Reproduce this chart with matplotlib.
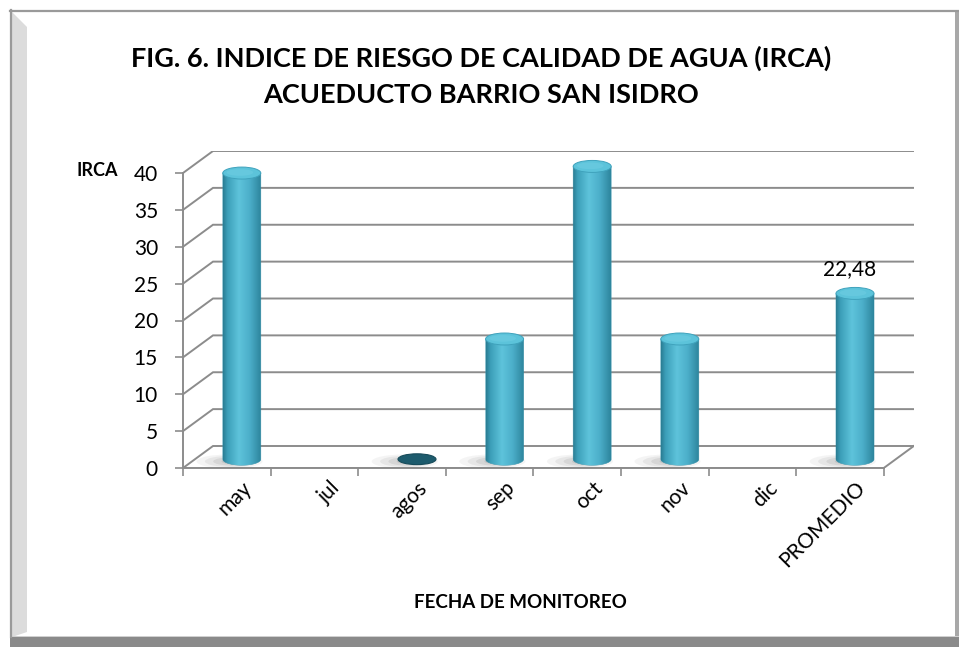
import numpy as np
import matplotlib
matplotlib.use("Agg")
import matplotlib.pyplot as plt
from matplotlib.path import Path
from matplotlib.patches import PathPatch, Ellipse, Rectangle, Polygon
from matplotlib.colors import LinearSegmentedColormap

plt.rcParams['font.family'] = ['Lato', 'DejaVu Sans']

# IRCA por mes de monitoreo (None = sin muestreo)
meses = ['may', 'jul', 'agos', 'sep', 'oct', 'nov', 'dic', 'PROMEDIO']
irca = [38.8, None, 0.0, 16.3, 39.7, 16.3, None, 22.48]
yticks = [0, 5, 10, 15, 20, 25, 30, 35, 40]

W, H = 959, 647
fig = plt.figure(figsize=(W / 100, H / 100), dpi=100)

# marco del grafico (pixeles)
bg = fig.add_axes([0, 0, 1, 1], zorder=-5)
bg.set_xlim(0, W)
bg.set_ylim(H, 0)
bg.axis('off')
bg.add_patch(Rectangle((10, 10), W - 10, H - 10, facecolor='white', edgecolor='none'))
bg.add_patch(Polygon([(12, 12), (27, 27), (27, 632), (12, 637)], closed=True,
                     facecolor='#dcdcdc', edgecolor='none'))
bg.plot([10, W], [10.5, 10.5], color='#9a9a9a', lw=1.6)
bg.plot([11, 11], [10, 637], color='#9a9a9a', lw=1.6)
bg.add_patch(Rectangle((955, 10), 4, 627, facecolor='#a8a8a8', edgecolor='none'))
bg.add_patch(Rectangle((10, 635.5), W - 10, 1.5, facecolor='#d0d0d0', edgecolor='none'))
bg.add_patch(Rectangle((10, 637), W - 10, 10, facecolor='#8a8a8a', edgecolor='none'))

# area del grafico 3D: escala de px por unidad
PX_CAT, PX_VAL = 87.6, 7.375
DX, DY = 30 / PX_CAT, 22 / PX_VAL
x0_px, y0_px = 183, 468
ymax = 40
ax_w = (len(meses) + DX) * PX_CAT
ax_h = (ymax + DY) * PX_VAL
ax = fig.add_axes([x0_px / W, (H - y0_px) / H, ax_w / W, ax_h / H])
ax.set_facecolor('none')

grid_c = '#8c8c8c'
n = len(meses)

# paredes: lineas de division en pared izquierda y fondo
for v in yticks:
    ax.plot([0, DX, n + DX], [v, v + DY, v + DY], color=grid_c, lw=1.4,
            solid_joinstyle='miter', zorder=1)
# piso
ax.plot([0, n, n + DX], [0, 0, DY], color=grid_c, lw=1.4, zorder=1)

cmap = LinearSegmentedColormap.from_list('cil', [
    (0.0, '#2a7c93'), (0.12, '#3c9fb9'), (0.42, '#5ec3db'),
    (0.7, '#4cafca'), (1.0, '#2d859d')])
grad = np.linspace(0, 1, 256).reshape(1, -1)

cw = 38 / PX_CAT          # ancho del cilindro
eh = 12 / PX_VAL          # alto de la elipse
base = DY / 2 - 0.3
t = np.linspace(np.pi, 2 * np.pi, 60)

for i, v in enumerate(irca):
    if v is None:
        continue
    cx = i + 0.5 + DX / 2
    # sombra difusa hacia la izquierda
    for k, a in enumerate([0.06, 0.08, 0.1, 0.12]):
        s = 1 - k * 0.2
        ax.add_patch(Ellipse((cx - 0.14 + k * 0.02, base - 0.3), (cw + 0.32) * s, 1.9 * s,
                             facecolor='#4a4a4a', edgecolor='none', alpha=a, zorder=2))
    if v == 0:
        ax.add_patch(Ellipse((cx, base), cw, eh * 0.9, facecolor='#1d5b6d',
                             edgecolor='#174b5a', lw=0.8, zorder=3))
        continue
    top = base + v
    arc_x = cx + cw / 2 * np.cos(t)
    arc_y = base + eh / 2 * np.sin(t)
    verts = [(cx - cw / 2, top)] + list(zip(arc_x, arc_y)) + [(cx + cw / 2, top), (cx - cw / 2, top)]
    codes = [Path.MOVETO] + [Path.LINETO] * (len(verts) - 2) + [Path.CLOSEPOLY]
    body = PathPatch(Path(verts, codes), facecolor='none', edgecolor='#3792ab', lw=0.4, zorder=3)
    ax.add_patch(body)
    im = ax.imshow(grad, cmap=cmap, aspect='auto', zorder=3,
                   extent=(cx - cw / 2, cx + cw / 2, base - eh, top), interpolation='bilinear')
    im.set_clip_path(body)
    ax.add_patch(Ellipse((cx, top), cw, eh, facecolor='#5cc3da', edgecolor='#3fa2bc',
                         lw=0.7, zorder=4))
    ax.add_patch(Ellipse((cx - cw * 0.05, top + eh * 0.05), cw * 0.7, eh * 0.55,
                         facecolor='#6dcde2', edgecolor='none', alpha=0.6, zorder=4))
    if meses[i] == 'PROMEDIO':
        ax.annotate(f'{v:.2f}'.replace('.', ','), xy=(cx, top + eh / 2),
                    xytext=(-4, 6), textcoords='offset points', ha='center', va='bottom',
                    fontsize=15, color='black', zorder=5)

ax.set_xlim(0, n + DX)
ax.set_ylim(0, ymax + DY)

for sp in ['top', 'right']:
    ax.spines[sp].set_visible(False)
ax.spines['left'].set_bounds(0, ymax)
ax.spines['bottom'].set_bounds(0, n)
for sp in ['left', 'bottom']:
    ax.spines[sp].set_color(grid_c)
    ax.spines[sp].set_linewidth(1.4)
ax.set_yticks(yticks)
ax.set_xticks(np.arange(0, n + 1))
ax.set_xticklabels([])
ax.tick_params(axis='both', direction='out', length=6, width=1.2, color=grid_c)
ax.tick_params(axis='y', labelsize=15, pad=12)

for i, m in enumerate(meses):
    ax.annotate(m, xy=(i + 0.5, 0), xytext=(16, -12), textcoords='offset points',
                rotation=45, rotation_mode='anchor', ha='right', va='center',
                fontsize=15, annotation_clip=False)

def fig_text(x, y, s, **kw):
    fig.text(x / W, 1 - y / H, s, ha='center', va='center', **kw)

fig_text(481, 58, 'FIG. 6. INDICE DE RIESGO DE CALIDAD DE AGUA (IRCA)', fontsize=19.5, fontweight='bold')
fig_text(481, 95, 'ACUEDUCTO BARRIO SAN ISIDRO', fontsize=19.5, fontweight='bold')
fig_text(97, 170, 'IRCA', fontsize=13, fontweight='bold')
fig_text(520, 602, 'FECHA DE MONITOREO', fontsize=13.5, fontweight='bold')

fig.savefig('out.png', dpi=100)
